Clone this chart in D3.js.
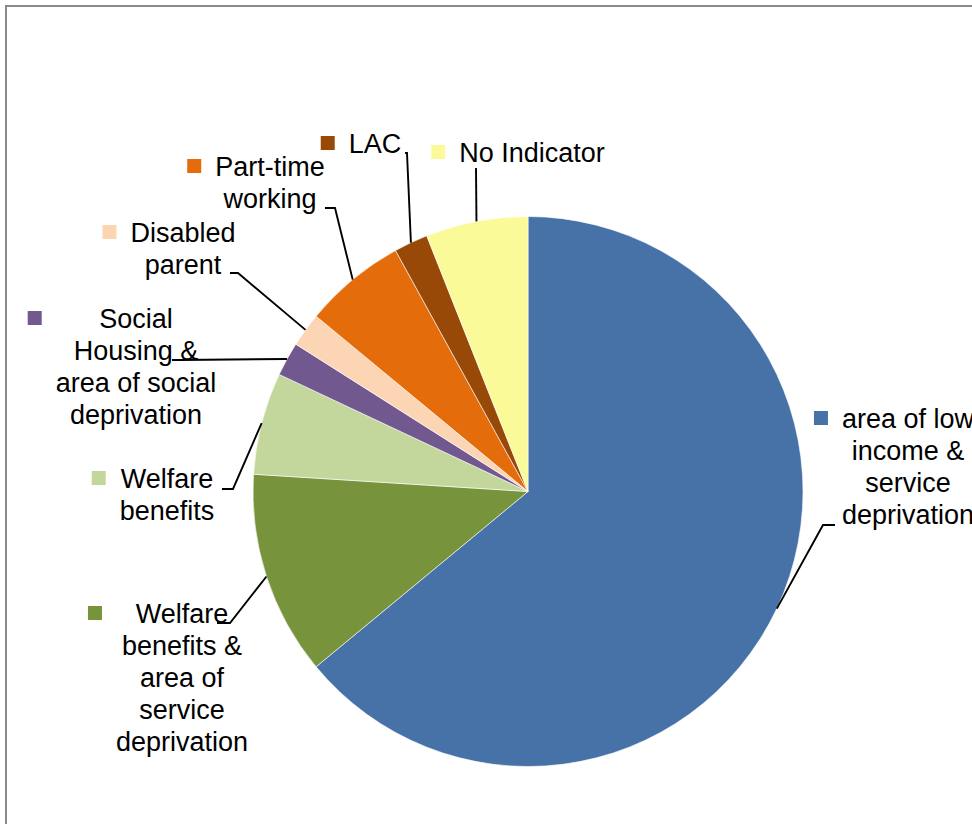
<html>
<head>
  <script src="https://d3js.org/d3.v7.min.js"></script>
  <style>
    body { margin: 0; background: #fff; }
    .lbl text { font-family: "Liberation Sans", Arial, sans-serif; font-size: 27px; fill: #000; }
    .leader { fill: none; stroke: #000; stroke-width: 1.9; }
  </style>
</head>
<body>
  <svg id="chart" width="972" height="824"></svg>
  <script>
    // data
    const categories = [
      "area of low income & service deprivation",
      "Welfare benefits & area of service deprivation",
      "Welfare benefits",
      "Social Housing & area of social deprivation",
      "Disabled parent",
      "Part-time working",
      "LAC",
      "No Indicator"
    ];
    const values = [64, 12, 6, 2, 2, 6, 2, 6];
    const colors = ["#4672A8", "#77933C", "#C3D69B", "#71588F", "#FCD5B5", "#E46C0A", "#984807", "#FAFA99"];
    const labelLines = [
      ["area of low", "income &", "service", "deprivation"],
      ["Welfare", "benefits &", "area of", "service", "deprivation"],
      ["Welfare", "benefits"],
      ["Social", "Housing &", "area of social", "deprivation"],
      ["Disabled", "parent"],
      ["Part-time", "working"],
      ["LAC"],
      ["No Indicator"]
    ];

    // where excel put each label: text centre x, first baseline, leader hook
    const labelLayout = [
      {cx: 908, y: 428, hook: [835, 823, 525]},
      {cx: 182, y: 623, hook: [217, 230, 623]},
      {cx: 167, y: 488, hook: [222, 233, 489]},
      {cx: 136, y: 328, hook: [172, 180, 360]},
      {cx: 183, y: 242, hook: [230, 238, 273]},
      {cx: 270, y: 176, hook: [325, 335, 208]},
      {cx: 375, y: 153, hook: [405, 407, 153]},
      {cx: 532, y: 162, hook: [476, 476, 168]}
    ];

    const svg = d3.select("svg#chart");
    const lineH = 32;
    const cx = 528, cy = 491.5, r = 275;

    svg.append("rect")
       .attr("x", 6).attr("y", 6)
       .attr("width", 1200).attr("height", 1200)
       .attr("fill", "#fff")
       .attr("stroke", "#8a8a8a")
       .attr("stroke-width", 2);

    const pie = d3.pie().sort(null).value(d => d);
    const arcs = pie(values);
    const arc = d3.arc().innerRadius(0).outerRadius(r);
    const edge = d3.arc().innerRadius(r).outerRadius(r);

    const pieG = svg.append("g").attr("transform", "translate(" + cx + "," + cy + ")");
    pieG.selectAll("path").data(arcs)
        .join("path")
        .attr("d", arc)
        .attr("fill", (d, i) => colors[i])
        .attr("stroke", "#fff")
        .attr("stroke-width", 0.6);

    // leader lines
    arcs.forEach((d, i) => {
      const L = labelLayout[i];
      const p = edge.centroid(d);
      const pts = [[L.hook[0], L.hook[2]], [L.hook[1], L.hook[2]], [cx + p[0], cy + p[1]]];
      svg.append("path")
         .attr("class", "leader")
         .attr("d", d3.line()(pts));
    });

    // labels with legend key squares
    categories.forEach((c, i) => {
      const L = labelLayout[i];
      const g = svg.append("g").attr("class", "lbl");
      const t = g.append("text").attr("text-anchor", "middle");
      labelLines[i].forEach((s, j) => {
        t.append("tspan").attr("x", L.cx).attr("y", L.y + j * lineH).text(s);
      });
      const bb = t.node().getBBox();
      g.append("rect")
       .attr("x", bb.x - 28).attr("y", L.y - 17)
       .attr("width", 14).attr("height", 14)
       .attr("fill", colors[i]);
    });
  </script>
</body>
</html>
